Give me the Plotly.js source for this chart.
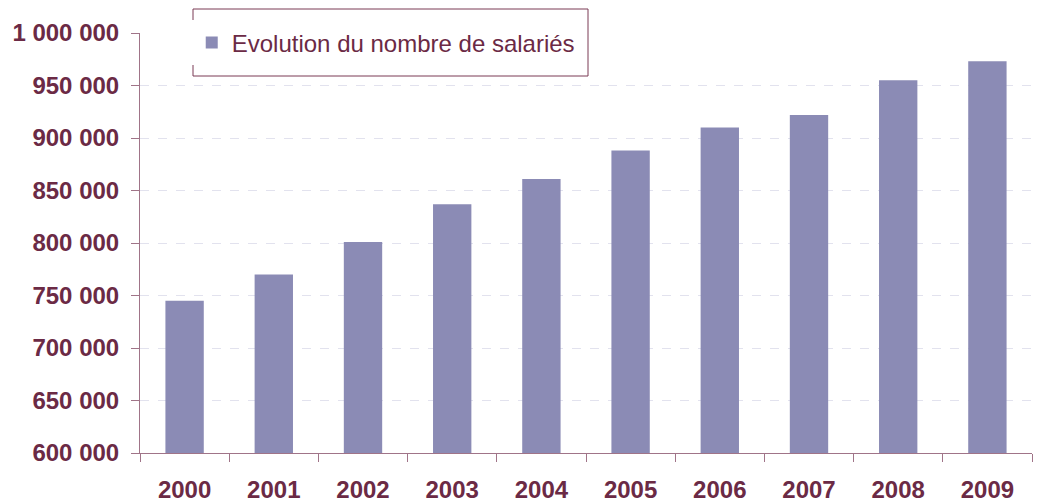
<!DOCTYPE html>
<html>
<head>
<meta charset="utf-8">
<script src="https://cdn.plot.ly/plotly-3.0.1.min.js"></script>
<style>html,body{margin:0;padding:0;background:#fff;}#chart{width:1044px;height:502px;}</style>
</head>
<body>
<div id="chart"></div>
<script>
const years = ["2000","2001","2002","2003","2004","2005","2006","2007","2008","2009"];
const salaries = [745000, 770000, 801000, 837000, 861000, 888000, 910000, 922000, 955000, 973000];
const seriesName = "Evolution du nombre de salariés";
const yTicks = [600000, 650000, 700000, 750000, 800000, 850000, 900000, 950000, 1000000];

const maroon = "#6B2A45";
const axisCol = "#A07488";

const trace = {
  type: "bar",
  x: years,
  y: salaries,
  name: seriesName,
  showlegend: true,
  marker: {color: "#8B8BB5"},
  hoverinfo: "x+y"
};

const layout = {
  width: 1044, height: 502,
  margin: {l: 140, r: 12, t: 33, b: 49},
  paper_bgcolor: "#fff", plot_bgcolor: "#fff",
  separators: ", ",
  font: {family: "Liberation Sans, Arial, sans-serif", color: maroon},
  bargap: 0.57,
  xaxis: {
    type: "category",
    showline: true, linecolor: axisCol, linewidth: 1,
    ticks: "outside", tickson: "boundaries", ticklen: 8, tickcolor: axisCol,
    tickfont: {size: 24, color: maroon, weight: "bold"},
    ticklabelstandoff: 15,
    showgrid: false
  },
  yaxis: {
    range: [600000, 1000000],
    tickvals: yTicks,
    tickformat: ",.0f",
    showline: true, linecolor: axisCol, linewidth: 1,
    ticks: "outside", ticklen: 8, tickcolor: axisCol,
    tickfont: {size: 24, color: maroon, weight: "bold"},
    ticklabelstandoff: 7,
    showgrid: true, gridcolor: "#E2E2EE", griddash: "dash", gridwidth: 1,
    zeroline: false
  },
  legend: {
    x: 0.058, y: 1.03, xanchor: "left", yanchor: "top",
    bgcolor: "rgba(255,255,255,1)",
    font: {size: 24, color: maroon}
  },
  shapes: [{
    type: "rect", xref: "paper", yref: "paper",
    x0: (193-140)/892, x1: (588-140)/892,
    y0: (453-76)/420, y1: (453-9)/420,
    line: {color: "#7B3A55", width: 1},
    fillcolor: "#fff", layer: "above"
  }]
};

Plotly.newPlot("chart", [trace], layout, {displayModeBar: false, staticPlot: true});
</script>
</body>
</html>
